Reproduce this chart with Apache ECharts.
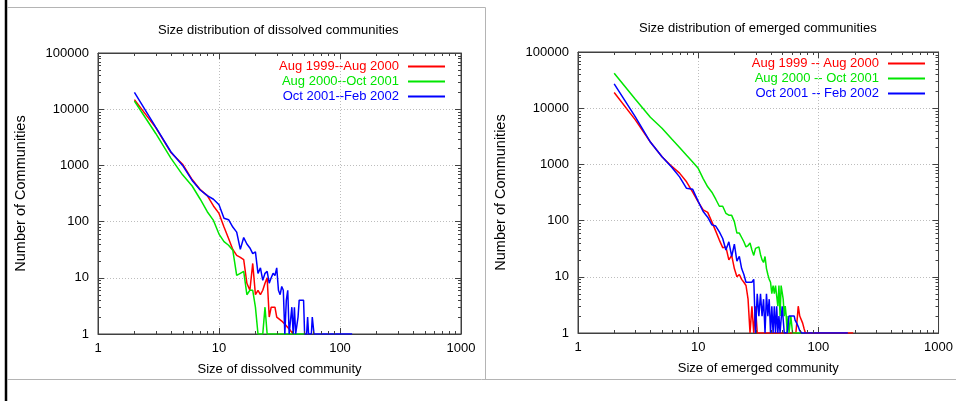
<!DOCTYPE html>
<html><head><meta charset="utf-8">
<script src="https://cdn.jsdelivr.net/npm/echarts@6/dist/echarts.min.js"></script>
<style>html,body{margin:0;padding:0;background:#fff}#c{width:956px;height:401px}</style>
</head><body><div id="c"></div>
<script>
// ---------- Left chart: dissolved communities ----------
const dissolvedSizes = [
  2,3,4,5,6,7,8,9,10,11,
  12,13,14,15,16,17,18,19,20,21,
  22,23,24,25,26,27,28,29,30,31,
  32,33,34,35,36,37,38,39,40,41,
  42,43,44,45,46,47,48,49,50,51,
  52,53,54,55,56,57,58,59,60,61,
  62,63,64,65,66,70,75,80,90,100,110,126];
const dissolvedRed = [
  14800,4700,1700,1050,560,370,290,190,140,80,
  50,32,25,23,21,8,6,18,5,6,
  5,6,8,10,2,3,3,3,2,2,
  null,1.7,null,1.5,null,1.3,null,1.15,null,1,
  null,null,null,null,null,null,null,null,null,null,
  null,null,null,null,null,null,null,null,null,null,
  null,null,null,null,null,null,null,null,null,null,null,null];
const dissolvedGreen = [
  14000,3700,1350,680,430,250,150,105,60,44,
  38,31,11,12,13,5,6,6,3,1,
  1,1,3,1,1,1,1,1,1,1,
  1,1,1,1,1,1,1,1,1,1,
  1,1,1,1,1,1,1,1,1,1,
  null,null,null,null,null,null,null,null,null,null,
  null,null,null,null,null,null,null,null,null,null,null,null];
const dissolvedBlue = [
  20000,4800,1750,1000,540,365,290,250,200,115,
  108,80,65,32,52,40,34,27,29,12,
  15,9,12,13,8,10,12,11,15,6,
  5,7,6,1,4,6,1,1,3,1,
  3,1,1,2,4,4,4,4,4,1,
  1,1,2,1,1,1,1,2,2,1,
  1,1,1,1,1,1,1,1,1,1,1,1];

// ---------- Right chart: emerged communities ----------
const emergedSizes = [
  2,3,4,5,6,7,8,9,10,11,
  12,13,14,15,16,17,18,19,20,21,
  22,23,24,25,26,27,28,29,30,31,
  32,33,34,35,36,37,38,39,40,41,
  42,43,44,45,46,47,48,49,50,51,
  52,53,54,55,56,57,58,59,60,61,
  62,63,64,65,66,67,68,69,70,71,
  72,73,74,75,76,77,78,79,80,
  90,100,120,150,176,195];
const emergedRed = [
  19000,6200,2500,1370,930,700,490,320,215,155,
  140,95,65,45,33,34,20,24,14,10,
  11,9,8,7,4,1,3,1,3,1,
  1,1,1,1,1,1,1,1,1,1,
  1,1,1,1,1,1,1,1,1,1,
  1,1,1,1,1,1,1,1,1,1,
  1,1,1,1,1,2,3,null,2,null,
  2,null,1.5,null,1.2,null,1,null,null,
  null,null,null,null,null,1];
const emergedGreen = [
  41700,14400,6900,4400,2850,2000,1450,1100,850,560,
  400,320,240,180,180,135,125,124,96,60,
  60,50,42,34,36,40,30,24,32,33,
  34,25,20,18,23,14,11,9,8,5,
  7,5,7,7,3,7,2,7,7,4,
  2,3,2,1,2,1,1,2,2,1,
  1,1,1,1,1,1,1,1,1,1,
  1,null,null,null,null,null,null,null,null,
  null,null,null,null,null,null];
const emergedBlue = [
  27000,7000,2500,1370,900,600,375,360,220,145,
  115,84,80,63,48,30,42,23,38,19,
  23,14,11,8,8,8,8,9,1,5,
  2,5,2,4,1,5,2,4,1,3,
  1,3,1,3,1,2,1,1,3,3,
  1,1,1,1,1,2,2,2,2,2,
  2,2,1.7,null,1.5,null,1.3,null,1.1,null,
  null,1,null,null,null,null,null,null,null,
  1,1,1,1,1,null];

const dissolvedNames = ['Aug 1999--Aug 2000','Aug 2000--Oct 2001','Oct 2001--Feb 2002'];
const emergedNames = ['Aug 1999 -- Aug 2000','Aug 2000 -- Oct 2001','Oct 2001 -- Feb 2002'];
const colors = ['#ff0000','#00e600','#0000ff'];

// tick positions
const xMajor = [1,10,100,1000];
const xMinor = [2,3,4,5,6,7,8,9,20,30,40,50,60,70,80,90,200,300,400,500,600,700,800,900];
const yMinor = [2,3,4,5,6,7,8,9,20,30,40,50,60,70,80,90,200,300,400,500,600,700,800,900,
  2000,3000,4000,5000,6000,7000,8000,9000,20000,30000,40000,50000,60000,70000,80000,90000];

const FONT = 'Liberation Sans, Arial, Helvetica, sans-serif';
const FRAME = '#404040';

function pairs(sizes, vals){
  const out = [];
  sizes.forEach((s,i)=>{ if (vals[i] != null) out.push([s, vals[i]]); });
  return out;
}
const fmt = v => String(Math.round(v));

function mainX(grid, name){
  return {gridIndex:grid, type:'log', logBase:10, min:1, max:1000, position:'bottom',
    name:name, nameLocation:'middle', nameGap:29,
    nameTextStyle:{fontFamily:FONT, fontSize:13, color:'#000'},
    axisLine:{show:true, onZero:false, lineStyle:{color:FRAME, width:1}},
    axisTick:{show:true, inside:true, length:6, lineStyle:{color:FRAME}},
    axisLabel:{show:true, color:'#000', fontFamily:FONT, fontSize:13, margin:8, formatter:fmt, showMinLabel:true, showMaxLabel:true},
    splitLine:{show:true, lineStyle:{type:[1,2], color:'#bdbdbd', width:1}}};
}
function mirrorX(grid){
  return {gridIndex:grid, type:'log', logBase:10, min:1, max:1000, position:'top',
    axisLine:{show:true, onZero:false, lineStyle:{color:FRAME}},
    axisTick:{show:true, inside:true, length:6, lineStyle:{color:FRAME}},
    axisLabel:{show:false}, splitLine:{show:false}};
}
function mainY(grid){
  return {gridIndex:grid, type:'log', logBase:10, min:1, max:100000, position:'left',
    name:'Number of Communities', nameLocation:'middle', nameGap:70,
    nameTextStyle:{fontFamily:FONT, fontSize:14.5, color:'#000'},
    axisLine:{show:true, onZero:false, lineStyle:{color:FRAME}},
    axisTick:{show:true, inside:true, length:6, lineStyle:{color:FRAME}},
    axisLabel:{show:true, color:'#000', fontFamily:FONT, fontSize:13, margin:9, formatter:fmt, showMinLabel:true, showMaxLabel:true},
    splitLine:{show:true, lineStyle:{type:[1,2], color:'#bdbdbd', width:1}}};
}
function mirrorY(grid){
  return {gridIndex:grid, type:'log', logBase:10, min:1, max:100000, position:'right',
    axisLine:{show:true, onZero:false, lineStyle:{color:FRAME}},
    axisTick:{show:true, inside:true, length:6, lineStyle:{color:FRAME}},
    axisLabel:{show:false}, splitLine:{show:false}};
}

function xTickRender(params, api){
  const cs = params.coordSys;
  const x = Math.round(api.coord([api.value(0), api.value(1)])[0]) + 0.5;
  const yb = cs.y + cs.height, yt = cs.y;
  return {type:'group', children:[
    {type:'line', shape:{x1:x, y1:yb, x2:x, y2:yb-3}, style:{stroke:FRAME, lineWidth:1}},
    {type:'line', shape:{x1:x, y1:yt, x2:x, y2:yt+3}, style:{stroke:FRAME, lineWidth:1}}]};
}
function yTickRender(params, api){
  const cs = params.coordSys;
  const y = Math.round(api.coord([api.value(0), api.value(1)])[1]) + 0.5;
  const xl = cs.x, xr = cs.x + cs.width;
  return {type:'group', children:[
    {type:'line', shape:{x1:xl, y1:y, x2:xl+3, y2:y}, style:{stroke:FRAME, lineWidth:1}},
    {type:'line', shape:{x1:xr, y1:y, x2:xr-3, y2:y}, style:{stroke:FRAME, lineWidth:1}}]};
}
function tickSeries(xi, yi){
  return [
    {type:'custom', xAxisIndex:xi, yAxisIndex:yi, silent:true, clip:false, z:5,
      data: xMinor.map(v=>[v,1]), encode:{x:0,y:1}, renderItem:xTickRender},
    {type:'custom', xAxisIndex:xi, yAxisIndex:yi, silent:true, clip:false, z:5,
      data: yMinor.map(v=>[1,v]), encode:{x:0,y:1}, renderItem:yTickRender}
  ];
}
function lineSeries(name, color, xi, yi, data){
  return {type:'line', name:name, xAxisIndex:xi, yAxisIndex:yi, data:data,
    showSymbol:false, symbol:'none', connectNulls:true, clip:true, z:3,
    lineStyle:{color:color, width:1.5}, itemStyle:{color:color}};
}
function legendFor(names, right, top){
  return {orient:'vertical', align:'right', right:right, top:top, padding:0,
    itemGap:0, itemWidth:37, itemHeight:2, icon:'rect', selectedMode:false,
    textStyle:{fontFamily:FONT, fontSize:13, lineHeight:15, padding:[0,4,0,0]},
    data: names.map((n,i)=>({name:n, textStyle:{color:colors[i]}}))};
}

const chart = echarts.init(document.getElementById('c'), null, {renderer:'canvas'});
chart.setOption({
  animation:false,
  backgroundColor:'#ffffff',
  title:[
    {text:'Size distribution of dissolved communities', left:158, top:24, padding:0,
      textStyle:{fontFamily:FONT, fontSize:13, fontWeight:'normal', color:'#000'}},
    {text:'Size distribution of emerged communities', left:639, top:22, padding:0,
      textStyle:{fontFamily:FONT, fontSize:13, fontWeight:'normal', color:'#000'}}
  ],
  legend:[ legendFor(dissolvedNames, 511, 59), legendFor(emergedNames, 31, 56) ],
  grid:[
    {left:98, top:53, width:363, height:281, show:true, borderColor:FRAME, borderWidth:1, backgroundColor:'transparent'},
    {left:578, top:52, width:363, height:281, show:true, borderColor:FRAME, borderWidth:1, backgroundColor:'transparent'}
  ],
  xAxis:[ mainX(0,'Size of dissolved community'), mirrorX(0), mainX(1,'Size of emerged community'), mirrorX(1) ],
  yAxis:[ mainY(0), mirrorY(0), mainY(1), mirrorY(1) ],
  series:[
    lineSeries(dissolvedNames[0], colors[0], 0, 0, pairs(dissolvedSizes, dissolvedRed)),
    lineSeries(dissolvedNames[1], colors[1], 0, 0, pairs(dissolvedSizes, dissolvedGreen)),
    lineSeries(dissolvedNames[2], colors[2], 0, 0, pairs(dissolvedSizes, dissolvedBlue)),
    lineSeries(emergedNames[0], colors[0], 2, 2, pairs(emergedSizes, emergedRed)),
    lineSeries(emergedNames[1], colors[1], 2, 2, pairs(emergedSizes, emergedGreen)),
    lineSeries(emergedNames[2], colors[2], 2, 2, pairs(emergedSizes, emergedBlue)),
    ...tickSeries(0,0),
    ...tickSeries(2,2)
  ],
  graphic:[
    {type:'line', shape:{x1:6, y1:0, x2:6, y2:401}, style:{stroke:'#000', lineWidth:2.5}, z:10},
    {type:'polyline', shape:{points:[[7,7.5],[485.5,7.5],[485.5,379.5]]}, style:{stroke:'#b4b4b4', fill:null, lineWidth:1}, z:10},
    {type:'line', shape:{x1:7, y1:379.5, x2:956, y2:379.5}, style:{stroke:'#b4b4b4', lineWidth:1}, z:10}
  ]
});
</script></body></html>
